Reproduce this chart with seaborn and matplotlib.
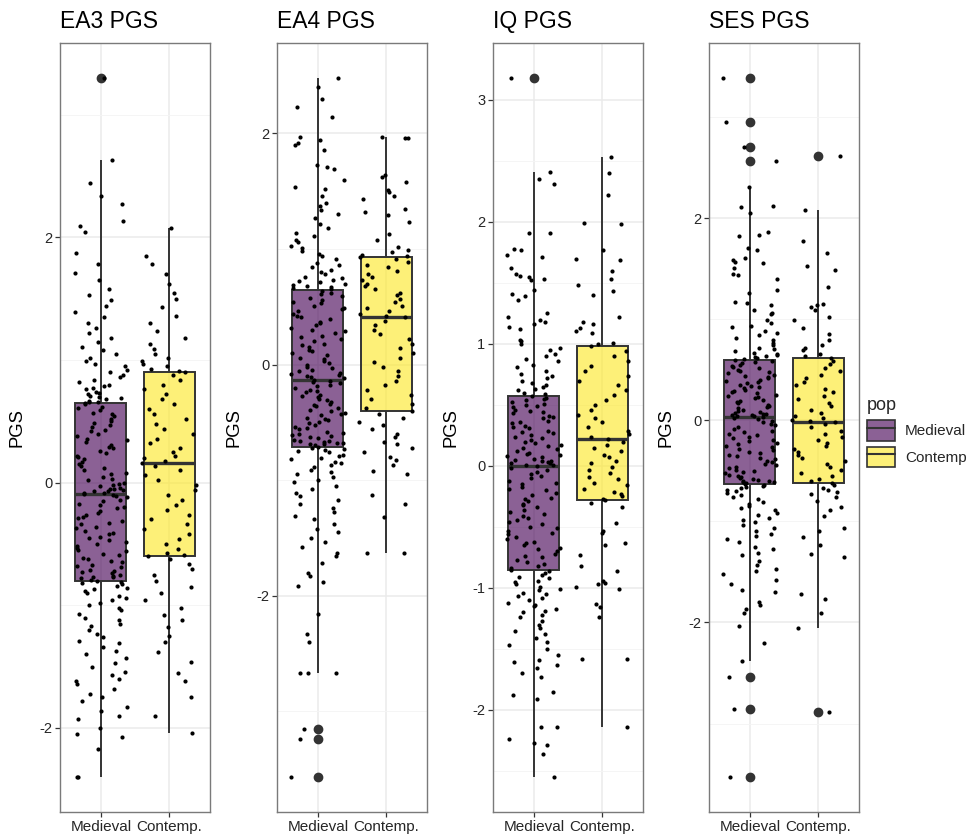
import numpy as np
import pandas as pd
import matplotlib
matplotlib.use("Agg")
import matplotlib.pyplot as plt
import seaborn as sns
from matplotlib.colors import to_rgba
from matplotlib.patches import Patch
from matplotlib.lines import Line2D

# panels, groups, tick labels
titles = ["EA3 PGS", "EA4 PGS", "IQ PGS", "SES PGS"]
pops = ["Medieval", "Contemp"]
tick_labels = ["Medieval", "Contemp."]
pop_colors = {"Medieval": "#440154", "Contemp": "#FDE725"}

# PGS values (one list per panel and population)
ea3_medieval = [
    3.30, 2.63, 2.44, 2.34, 2.27, 2.13, 2.09, 2.04, 1.87, 1.78,
    1.71, 1.65, 1.58, 1.53, 1.49, 1.44, 1.39, 1.35, 1.30, 1.26,
    1.22, 1.18, 1.15, 1.11, 1.08, 1.05, 1.02, 0.99, 0.97, 0.95,
    0.92, 0.90, 0.88, 0.86, 0.84, 0.82, 0.80, 0.79, 0.77, 0.76,
    0.74, 0.73, 0.72, 0.71, 0.70, 0.69, 0.68, 0.67, 0.66, 0.66,
    0.65,
    0.64, 0.62, 0.61, 0.59, 0.57, 0.56, 0.54, 0.52, 0.50, 0.49,
    0.47, 0.45, 0.43, 0.42, 0.40, 0.38, 0.36, 0.35, 0.33, 0.31,
    0.29, 0.28, 0.26, 0.24, 0.22, 0.21, 0.19, 0.17, 0.15, 0.14,
    0.12, 0.10, 0.08, 0.07, 0.05, 0.03, 0.02, 0.00, -0.01, -0.02,
    -0.03, -0.04, -0.05, -0.05, -0.06, -0.07, -0.07, -0.08, -0.08,
    -0.09,
    -0.10, -0.11, -0.12, -0.14, -0.15, -0.17, -0.18, -0.20, -0.21, -0.23,
    -0.25, -0.26, -0.28, -0.29, -0.31, -0.33, -0.34, -0.36, -0.37, -0.39,
    -0.41, -0.42, -0.44, -0.45, -0.47, -0.48, -0.50, -0.52, -0.53, -0.55,
    -0.56, -0.58, -0.59, -0.61, -0.62, -0.64, -0.65, -0.67, -0.68, -0.69,
    -0.71, -0.72, -0.73, -0.74, -0.75, -0.76, -0.77, -0.77, -0.78,
    -0.79,
    -0.80, -0.81, -0.82, -0.83, -0.84, -0.86, -0.87, -0.88, -0.90, -0.92,
    -0.94, -0.96, -0.98, -1.00, -1.02, -1.04, -1.07, -1.10, -1.12, -1.15,
    -1.17, -1.20, -1.23, -1.26, -1.29, -1.31, -1.34, -1.37, -1.40, -1.43,
    -1.47, -1.50, -1.54, -1.57, -1.60, -1.62, -1.64, -1.68, -1.72, -1.75,
    -1.78, -1.83, -1.86, -1.90, -1.93, -2.00, -2.05, -2.07, -2.17, -2.40, -2.40,
]
ea3_contemp = [
    2.08, 1.85, 1.78, 1.70, 1.62, 1.55, 1.50, 1.43, 1.36, 1.30,
    1.24, 1.18, 1.13, 1.09, 1.05, 1.02, 0.99, 0.97, 0.95, 0.93, 0.91,
    0.90,
    0.88, 0.84, 0.80, 0.76, 0.72, 0.68, 0.64, 0.60, 0.56, 0.52,
    0.48, 0.44, 0.40, 0.36, 0.32, 0.28, 0.25, 0.22, 0.20, 0.18,
    0.16,
    0.14, 0.10, 0.06, 0.02, -0.02, -0.06, -0.10, -0.14, -0.18, -0.22,
    -0.26, -0.30, -0.34, -0.38, -0.42, -0.46, -0.50, -0.54, -0.57, -0.59,
    -0.60,
    -0.62, -0.66, -0.70, -0.75, -0.80, -0.85, -0.90, -0.96, -1.02, -1.08,
    -1.12, -1.18, -1.25, -1.30, -1.38, -1.46, -1.55, -1.62, -1.75, -1.90, -2.04,
]
ea4_medieval = [
    2.48, 2.40, 2.30, 2.23, 2.14, 1.97, 1.94, 1.92, 1.90, 1.86,
    1.73, 1.71, 1.69, 1.60, 1.54, 1.52, 1.46, 1.40, 1.37, 1.34,
    1.30, 1.27, 1.22, 1.18, 1.14, 1.11, 1.08, 1.06, 1.03, 1.01,
    0.98, 0.96, 0.94, 0.91, 0.88, 0.86, 0.84, 0.82, 0.80, 0.78,
    0.76, 0.75, 0.73, 0.72, 0.71, 0.70, 0.69, 0.68, 0.67, 0.66,
    0.65,
    0.64, 0.62, 0.61, 0.59, 0.58, 0.56, 0.54, 0.53, 0.51, 0.49,
    0.48, 0.46, 0.44, 0.42, 0.41, 0.39, 0.37, 0.36, 0.34, 0.32,
    0.30, 0.29, 0.27, 0.25, 0.24, 0.22, 0.20, 0.18, 0.17, 0.15,
    0.13, 0.12, 0.10, 0.08, 0.06, 0.05, 0.03, 0.01, 0.00, -0.02,
    -0.03, -0.05, -0.06, -0.07, -0.08, -0.09, -0.10, -0.11, -0.12,
    -0.13,
    -0.14, -0.15, -0.16, -0.18, -0.19, -0.20, -0.22, -0.23, -0.24, -0.26,
    -0.27, -0.28, -0.30, -0.31, -0.32, -0.34, -0.35, -0.36, -0.38, -0.39,
    -0.40, -0.42, -0.43, -0.44, -0.46, -0.47, -0.48, -0.50, -0.51, -0.52,
    -0.54, -0.55, -0.56, -0.58, -0.59, -0.60, -0.61, -0.62, -0.63, -0.64,
    -0.65, -0.66, -0.66, -0.67, -0.68, -0.68, -0.69, -0.69, -0.70,
    -0.71,
    -0.72, -0.73, -0.74, -0.75, -0.76, -0.78, -0.79, -0.81, -0.82, -0.84,
    -0.85, -0.87, -0.89, -0.91, -0.93, -0.95, -0.97, -1.00, -1.02, -1.05,
    -1.08, -1.11, -1.14, -1.17, -1.21, -1.24, -1.28, -1.31, -1.34, -1.38,
    -1.42, -1.45, -1.50, -1.54, -1.58, -1.63, -1.66, -1.72, -1.80, -1.83,
    -1.88, -1.92, -2.16, -2.33, -2.40, -2.67, -2.67, -2.67, -3.15, -3.24, -3.57,
]
ea4_contemp = [
    1.97, 1.96, 1.96, 1.64, 1.62, 1.58, 1.51, 1.49, 1.46, 1.43,
    1.35, 1.32, 1.29, 1.23, 1.13, 1.08, 1.02, 0.99, 0.97, 0.95, 0.94,
    0.93,
    0.91, 0.89, 0.86, 0.84, 0.81, 0.78, 0.76, 0.73, 0.70, 0.68,
    0.65, 0.62, 0.60, 0.57, 0.54, 0.51, 0.49, 0.46, 0.44, 0.42,
    0.41,
    0.38, 0.34, 0.30, 0.26, 0.22, 0.18, 0.14, 0.10, 0.06, 0.02,
    -0.02, -0.06, -0.10, -0.14, -0.18, -0.22, -0.26, -0.30, -0.34, -0.38,
    -0.40,
    -0.43, -0.46, -0.50, -0.52, -0.56, -0.60, -0.63, -0.67, -0.69, -0.72,
    -0.76, -0.80, -0.83, -0.87, -0.92, -0.95, -1.13, -1.21, -1.32, -1.63, -1.63,
]
iq_medieval = [
    3.18, 2.41, 2.35, 2.31, 1.91, 1.91, 1.78, 1.77, 1.73, 1.71,
    1.62, 1.57, 1.56, 1.55, 1.53, 1.52, 1.44, 1.41, 1.39, 1.36,
    1.25, 1.22, 1.20, 1.18, 1.16, 1.14, 1.12, 1.03, 1.02, 1.00,
    0.97, 0.95, 0.92, 0.90, 0.88, 0.86, 0.83, 0.81, 0.78, 0.75,
    0.74, 0.72, 0.70, 0.68, 0.66, 0.65, 0.63, 0.62, 0.60, 0.59,
    0.57,
    0.56, 0.55, 0.54, 0.52, 0.51, 0.50, 0.49, 0.48, 0.46, 0.45,
    0.44, 0.43, 0.41, 0.40, 0.39, 0.37, 0.36, 0.35, 0.33, 0.32,
    0.31, 0.29, 0.28, 0.27, 0.25, 0.24, 0.23, 0.21, 0.20, 0.19,
    0.17, 0.16, 0.15, 0.14, 0.12, 0.11, 0.10, 0.09, 0.08, 0.07,
    0.06, 0.05, 0.04, 0.04, 0.03, 0.02, 0.02, 0.01, 0.01,
    0.00,
    -0.02, -0.03, -0.05, -0.07, -0.08, -0.10, -0.12, -0.14, -0.15, -0.17,
    -0.19, -0.20, -0.22, -0.24, -0.26, -0.27, -0.29, -0.31, -0.32, -0.34,
    -0.36, -0.38, -0.39, -0.41, -0.43, -0.44, -0.46, -0.48, -0.50, -0.51,
    -0.53, -0.55, -0.56, -0.58, -0.60, -0.62, -0.63, -0.65, -0.67, -0.68,
    -0.70, -0.72, -0.74, -0.75, -0.77, -0.79, -0.80, -0.82, -0.84,
    -0.85,
    -0.86, -0.88, -0.89, -0.91, -0.92, -0.94, -0.95, -0.97, -0.99, -1.01,
    -1.02, -1.04, -1.05, -1.07, -1.08, -1.10, -1.12, -1.14, -1.15, -1.17,
    -1.19, -1.20, -1.22, -1.24, -1.27, -1.30, -1.33, -1.35, -1.38, -1.41,
    -1.44, -1.47, -1.50, -1.55, -1.59, -1.61, -1.63, -1.66, -1.70, -1.73,
    -1.85, -1.88, -1.91, -2.14, -2.14, -2.24, -2.27, -2.29, -2.36, -2.55,
]
iq_contemp = [
    2.53, 2.40, 2.22, 1.99, 1.98, 1.77, 1.70, 1.69, 1.60, 1.53,
    1.48, 1.43, 1.40, 1.22, 1.18, 1.16, 1.13, 1.11, 1.09, 1.01, 1.00,
    0.98,
    0.94, 0.90, 0.86, 0.82, 0.78, 0.74, 0.70, 0.66, 0.62, 0.58,
    0.54, 0.50, 0.46, 0.42, 0.39, 0.36, 0.32, 0.29, 0.26, 0.24,
    0.22,
    0.20, 0.17, 0.15, 0.12, 0.09, 0.07, 0.04, 0.02, -0.01, -0.03,
    -0.06, -0.09, -0.11, -0.14, -0.16, -0.19, -0.21, -0.23, -0.25, -0.27,
    -0.28,
    -0.30, -0.34, -0.47, -0.53, -0.55, -0.63, -0.65, -0.73, -0.82, -0.86,
    -0.94, -0.96, -0.97, -0.99, -1.01, -1.13, -1.16, -1.24, -1.58, -1.58, -2.14,
]
ses_medieval = [
    3.39, 2.95, 2.71, 2.57, 2.31, 2.12, 2.11, 2.05, 1.87, 1.84,
    1.83, 1.71, 1.69, 1.61, 1.59, 1.57, 1.56, 1.51, 1.45, 1.44,
    1.40, 1.29, 1.26, 1.17, 1.16, 1.14, 1.09, 1.06, 1.05, 0.99,
    0.96, 0.93, 0.92, 0.89, 0.87, 0.85, 0.82, 0.80, 0.77, 0.75,
    0.72, 0.71, 0.69, 0.67, 0.66, 0.65, 0.64, 0.63, 0.62, 0.61,
    0.60,
    0.59, 0.58, 0.57, 0.55, 0.54, 0.53, 0.52, 0.50, 0.49, 0.48,
    0.47, 0.45, 0.44, 0.43, 0.42, 0.40, 0.39, 0.38, 0.37, 0.35,
    0.34, 0.33, 0.32, 0.30, 0.29, 0.28, 0.27, 0.25, 0.24, 0.23,
    0.22, 0.20, 0.19, 0.18, 0.17, 0.15, 0.14, 0.13, 0.12, 0.10,
    0.09, 0.08, 0.07, 0.06, 0.06, 0.05, 0.05, 0.04, 0.04,
    0.03,
    0.02, 0.01, -0.01, -0.02, -0.04, -0.05, -0.07, -0.08, -0.10, -0.11,
    -0.13, -0.14, -0.16, -0.17, -0.19, -0.20, -0.22, -0.23, -0.25, -0.26,
    -0.28, -0.29, -0.31, -0.32, -0.34, -0.35, -0.37, -0.38, -0.40, -0.41,
    -0.43, -0.44, -0.46, -0.47, -0.49, -0.50, -0.51, -0.52, -0.54, -0.55,
    -0.56, -0.57, -0.58, -0.59, -0.60, -0.60, -0.61, -0.61, -0.62,
    -0.63,
    -0.64, -0.65, -0.66, -0.67, -0.69, -0.70, -0.72, -0.74, -0.76, -0.78,
    -0.81, -0.83, -0.85, -0.87, -0.89, -0.92, -0.94, -0.97, -0.99, -1.01,
    -1.04, -1.06, -1.09, -1.12, -1.14, -1.17, -1.20, -1.25, -1.27, -1.31,
    -1.33, -1.39, -1.43, -1.47, -1.49, -1.52, -1.58, -1.62, -1.68, -1.70,
    -1.80, -1.83, -1.87, -1.91, -2.03, -2.20, -2.38, -2.54, -2.86, -3.53,
]
ses_contemp = [
    2.62, 2.08, 1.78, 1.66, 1.53, 1.49, 1.32, 1.15, 1.14, 1.12,
    1.09, 1.02, 0.99, 0.91, 0.86, 0.80, 0.75, 0.72, 0.70, 0.66, 0.64,
    0.62,
    0.59, 0.56, 0.52, 0.49, 0.45, 0.42, 0.38, 0.35, 0.31, 0.28,
    0.24, 0.21, 0.17, 0.14, 0.10, 0.07, 0.04, 0.02, 0.00, -0.01,
    -0.02,
    -0.04, -0.07, -0.10, -0.13, -0.16, -0.19, -0.22, -0.25, -0.28, -0.31,
    -0.34, -0.37, -0.40, -0.43, -0.46, -0.49, -0.52, -0.55, -0.58, -0.60,
    -0.62,
    -0.64, -0.67, -0.69, -0.71, -0.73, -0.76, -0.80, -0.86, -0.89, -0.95,
    -1.06, -1.09, -1.15, -1.23, -1.32, -1.35, -1.72, -1.77, -1.91, -2.05, -2.89,
]

panel_data = [
    (ea3_medieval, ea3_contemp),
    (ea4_medieval, ea4_contemp),
    (iq_medieval, iq_contemp),
    (ses_medieval, ses_contemp),
]
major_ticks = [[-2, 0, 2], [-2, 0, 2], [-2, -1, 0, 1, 2, 3], [-2, 0, 2]]
minor_ticks = [[-1, 1, 3], [-3, -1, 1], [-2.5, -1.5, -0.5, 0.5, 1.5, 2.5], [-3, -1, 1, 3]]

sns.set_style("white")
plt.rcParams["font.family"] = ["Liberation Sans", "DejaVu Sans"]
plt.rcParams["axes.unicode_minus"] = False

W, H = 973, 838
fig = plt.figure(figsize=(W / 100, H / 100), dpi=100)
panel_left = [60, 277, 493, 709]
panel_w = 150
top, bottom = 43, 812
fill_alpha = 0.62
edge = "#333333"

np.random.seed(3)
for i, (title, (med, con)) in enumerate(zip(titles, panel_data)):
    ax = fig.add_axes([panel_left[i] / W, 1 - bottom / H, panel_w / W, (bottom - top) / H])
    df = pd.DataFrame({
        "PGS": med + con,
        "pop": ["Medieval"] * len(med) + ["Contemp"] * len(con),
    })

    sns.boxplot(data=df, x="pop", y="PGS", hue="pop", order=pops, hue_order=pops,
                palette=pop_colors, saturation=1, width=0.75, linewidth=1.4,
                linecolor=edge, fliersize=6,
                flierprops=dict(marker="o", markerfacecolor=edge, markeredgecolor=edge),
                medianprops=dict(linewidth=2.4), capprops=dict(visible=False),
                legend=False, ax=ax)
    # see-through fill like alpha in ggplot
    for patch in ax.patches:
        patch.set_facecolor(to_rgba(patch.get_facecolor(), fill_alpha))

    sns.stripplot(data=df, x="pop", y="PGS", order=pops, color="black", size=3.0,
                  jitter=0.4, linewidth=0, zorder=3, ax=ax)

    lo, hi = min(med + con), max(med + con)
    pad = 0.05 * (hi - lo)
    ax.set_ylim(lo - pad, hi + pad)
    ax.set_xlim(-0.6, 1.6)
    ax.set_yticks(major_ticks[i])
    ax.set_yticks(minor_ticks[i], minor=True)
    ax.set_xticks([0, 1])
    ax.set_xticklabels(tick_labels)

    ax.grid(which="major", color="#EBEBEB", linewidth=1.1)
    ax.grid(which="minor", axis="y", color="#F4F4F4", linewidth=0.6)
    ax.set_axisbelow(True)
    ax.tick_params(which="major", left=True, bottom=True, length=3.5, width=0.9,
                   color=edge, labelcolor="#262626")
    ax.tick_params(axis="x", labelsize=11, pad=2)
    ax.tick_params(axis="y", labelsize=10.5, pad=2)
    ax.tick_params(which="minor", left=False, bottom=False, length=0)
    for s in ax.spines.values():
        s.set_color("#7a7a7a")
        s.set_linewidth(1.0)

    ax.set_xlabel("")
    ax.set_ylabel("PGS", fontsize=13.3, color="black")
    ax.yaxis.set_label_coords(-34 / panel_w, 0.5)
    ax.set_title(title, loc="left", fontsize=16.5, pad=10.8, color="black")

handles = [
    (Patch(facecolor=to_rgba(pop_colors[p], fill_alpha), edgecolor=edge, linewidth=1.2),
     Line2D([], [], color=edge, linewidth=1.5))
    for p in pops
]
fig.legend(handles, pops, title="pop", loc="upper left",
           bbox_to_anchor=(867 / W, 1 - 397 / H), frameon=False,
           fontsize=11, title_fontsize=13, handlelength=1.8, handleheight=1.7,
           handletextpad=0.7, labelspacing=0.4, alignment="left",
           borderaxespad=0, borderpad=0)

fig.savefig("out.png", dpi=100)
